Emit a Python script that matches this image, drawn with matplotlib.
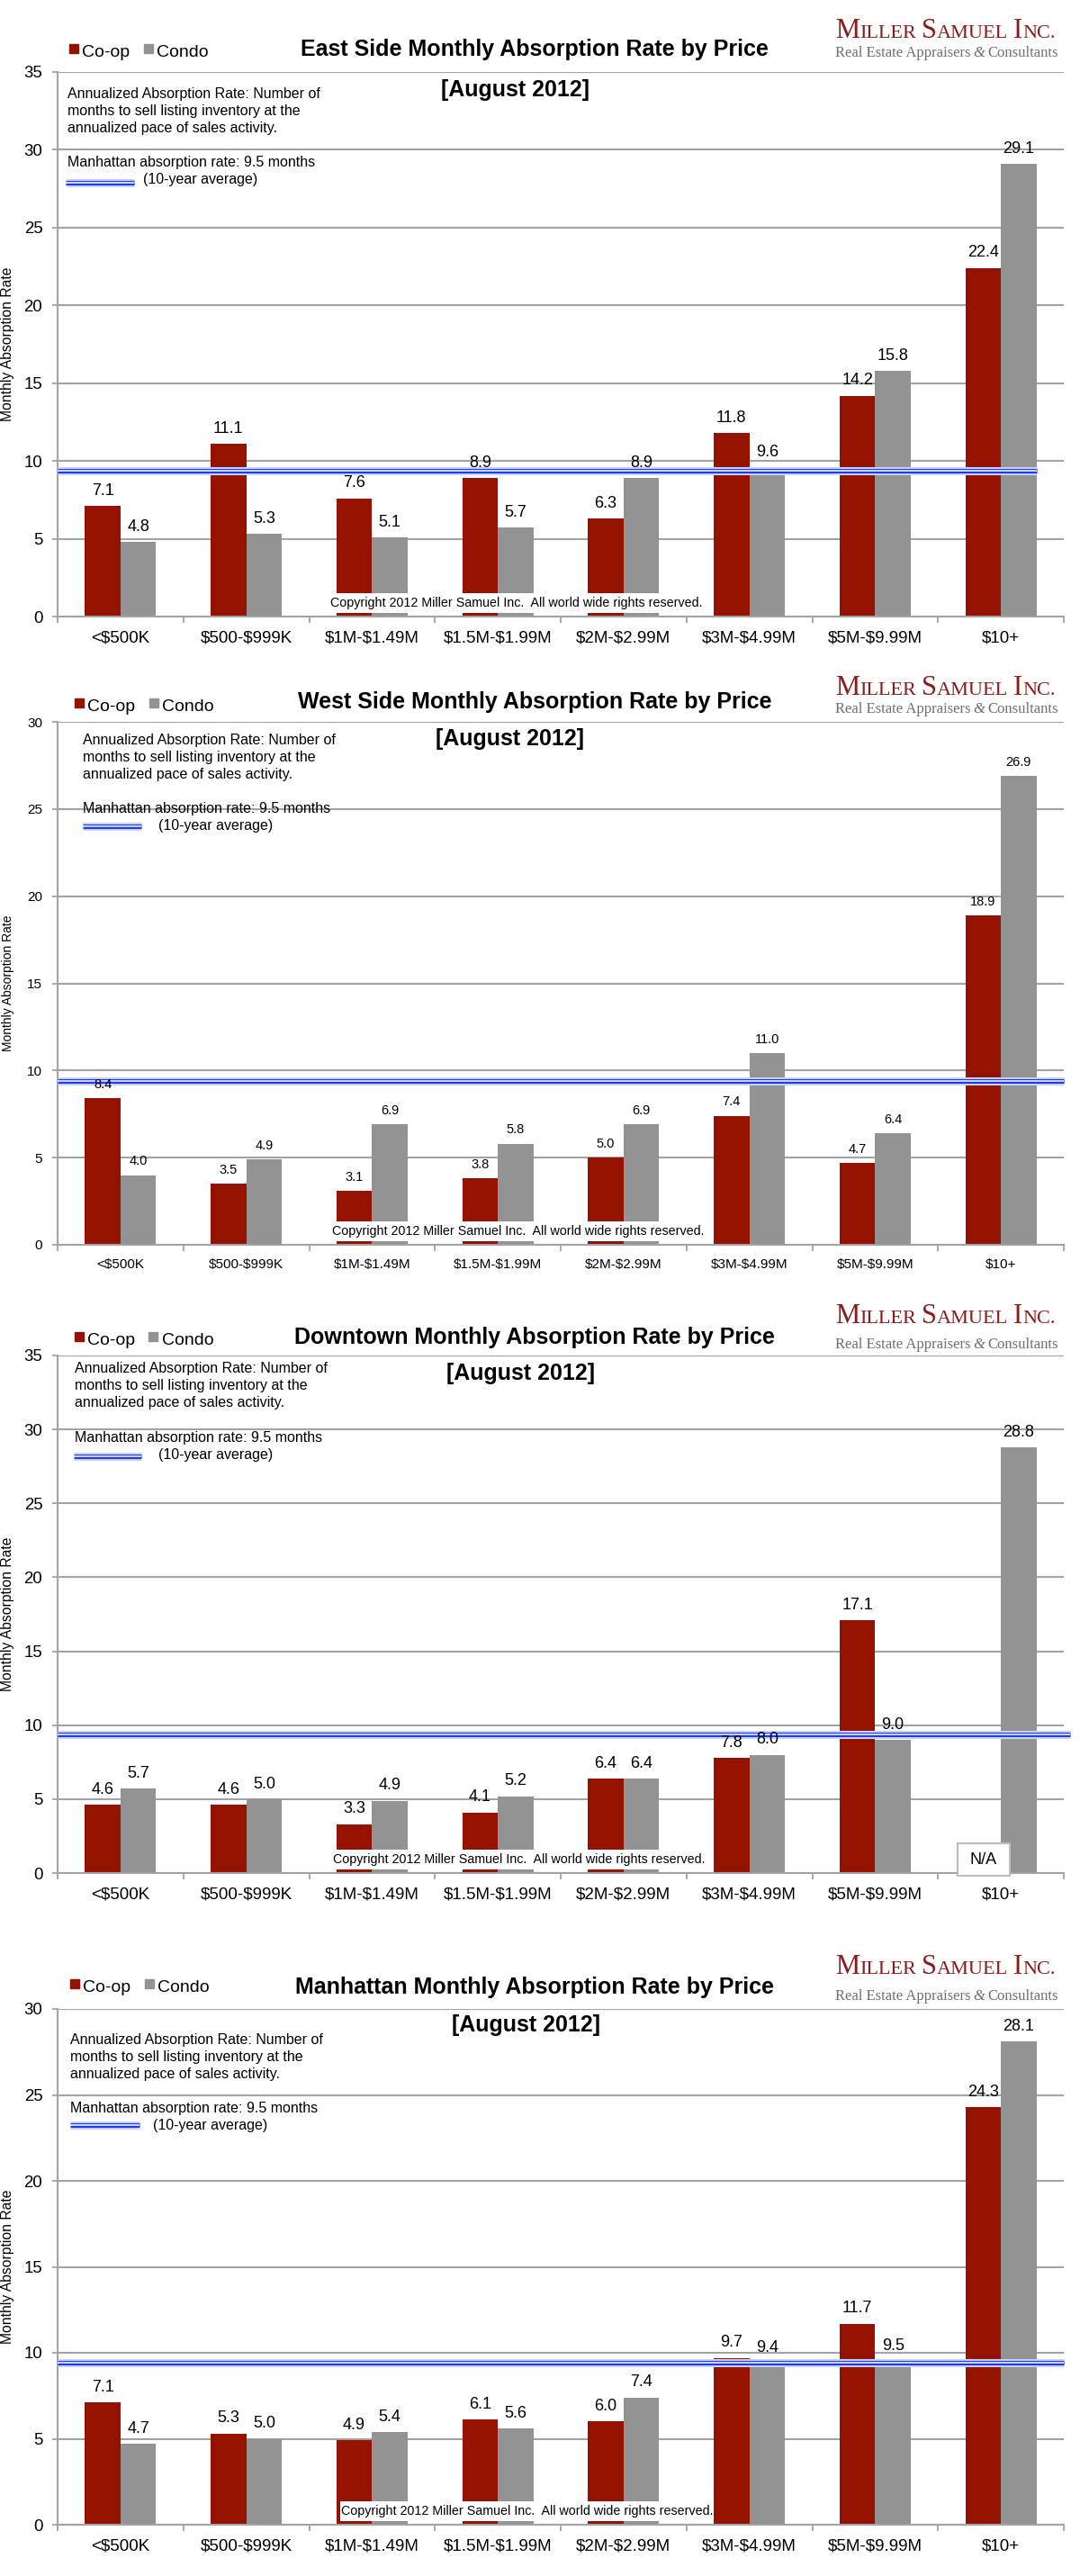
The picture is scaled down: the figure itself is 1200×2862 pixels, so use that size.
import matplotlib
matplotlib.use('Agg')
import matplotlib.pyplot as plt
from matplotlib.patches import Rectangle
from matplotlib.lines import Line2D
import numpy as np

plt.rcParams['font.family'] = ['Liberation Sans', 'DejaVu Sans']

# data (August 2012)
price_bands = ['<$500K', '$500-$999K', '$1M-$1.49M', '$1.5M-$1.99M',
               '$2M-$2.99M', '$3M-$4.99M', '$5M-$9.99M', '$10+']

east_coop = [7.1, 11.1, 7.6, 8.9, 6.3, 11.8, 14.2, 22.4]
east_condo = [4.8, 5.3, 5.1, 5.7, 8.9, 9.6, 15.8, 29.1]
west_coop = [8.4, 3.5, 3.1, 3.8, 5.0, 7.4, 4.7, 18.9]
west_condo = [4.0, 4.9, 6.9, 5.8, 6.9, 11.0, 6.4, 26.9]
downtown_coop = [4.6, 4.6, 3.3, 4.1, 6.4, 7.8, 17.1, None]
downtown_condo = [5.7, 5.0, 4.9, 5.2, 6.4, 8.0, 9.0, 28.8]
manhattan_coop = [7.1, 5.3, 4.9, 6.1, 6.0, 9.7, 11.7, 24.3]
manhattan_condo = [4.7, 5.0, 5.4, 5.6, 7.4, 9.4, 9.5, 28.1]

manhattan_avg = 9.4

COOP = '#951100'
CONDO = '#939393'
GRID = '#a3a3a3'
LOGO = '#8c1b1b'
BLUE = '#1c3cf2'

W, H = 1200, 2862
L, R = 64, 1182

fig = plt.figure(figsize=(W / 100, H / 100), dpi=100)
renderer = fig.canvas.get_renderer()


def fx(px):
    return px / W


def fy(px):
    return 1 - px / H


def avg_line(ax, xs, ys, transform):
    kw = dict(transform=transform, solid_capstyle='butt', clip_on=False)
    ax.plot(xs, ys, color='#c9d1f2', lw=6.5, zorder=3, **kw)
    ax.plot(xs, ys, color=BLUE, lw=3.6, zorder=3, **kw)
    ax.plot(xs, ys, color='white', lw=1.1, zorder=3, **kw)


def chain_text(x0, y, pieces, **kw):
    # draw text pieces one after another on the same baseline (small caps logo)
    x = x0
    for txt, size, extra in pieces:
        if txt == ' ':
            x += size
            continue
        t = fig.text(fx(x), y, txt, fontsize=size, va='baseline', ha='left', **kw, **extra)
        x += t.get_window_extent(renderer).width


def draw_panel(title, coop, condo, ymax, lay):
    top, bot = lay['top'], lay['bot']
    h = bot - top
    fs = lay['fs']
    ax = fig.add_axes([fx(L), fy(bot), (R - L) / W, h / H])
    x = np.arange(len(price_bands))
    bw = 0.283
    coop_vals = np.array([np.nan if v is None else v for v in coop])
    ax.bar(x - bw / 2, coop_vals, bw, color=COOP, zorder=2)
    ax.bar(x + bw / 2, condo, bw, color=CONDO, zorder=2)

    for xi, v in zip(x - bw / 2, coop):
        if v is None:
            ax.add_patch(Rectangle((xi - 0.2, -0.18), 0.41, 2.18, facecolor='white',
                                   edgecolor='#bdbdbd', lw=1.5, zorder=4, clip_on=False))
            ax.text(xi + 0.005, 0.9, 'N/A', ha='center', va='center', fontsize=13, zorder=5)
            continue
        ax.annotate(f'{v:.1f}', (xi, v), xytext=(0, 6), textcoords='offset points',
                    ha='center', va='bottom', fontsize=fs['val'], zorder=5)
    for xi, v in zip(x + bw / 2, condo):
        ax.annotate(f'{v:.1f}', (xi, v), xytext=(0, 6), textcoords='offset points',
                    ha='center', va='bottom', fontsize=fs['val'], zorder=5)

    ax.set_xlim(-0.5, len(price_bands) - 0.5)
    ax.set_ylim(0, ymax)
    ax.set_yticks(np.arange(0, ymax + 1, 5))
    ax.set_xticks(x)
    ax.set_xticklabels([b.replace('$', r'\$') for b in price_bands], fontsize=fs['tick'])
    ax.set_xticks(np.arange(-0.5, len(price_bands)), minor=True)
    ax.tick_params(axis='x', which='major', length=0, pad=11)
    ax.tick_params(axis='x', which='minor', length=5, width=1.3, color=GRID, direction='out')
    ax.tick_params(axis='y', length=4, width=1.3, color=GRID, pad=8, labelsize=fs['ytick'])
    ax.grid(axis='y', color=GRID, lw=1.5, zorder=1)
    ax.set_axisbelow(True)
    for s in ['top', 'right']:
        ax.spines[s].set_visible(False)
    for s in ['left', 'bottom']:
        ax.spines[s].set_color(GRID)
        ax.spines[s].set_linewidth(1.5)
    ax.set_ylabel('Monthly Absorption Rate', fontsize=fs['ylab'])
    ax.yaxis.set_label_coords((16 - L) / (R - L), 0.5)

    # 10-year Manhattan average
    avg_line(ax, [-0.5, lay['line_end']], [manhattan_avg, manhattan_avg], ax.transData)

    # notes inside the plot
    def ax_pt(px_x, px_below):
        return (px_x - L) / (R - L), 1 - px_below / h

    notes = ['Annualized Absorption Rate: Number of',
             'months to sell listing inventory at the',
             'annualized pace of sales activity.']
    for k, line in enumerate(notes):
        ax.text(*ax_pt(lay['note_x'], lay['note'] + 19 * k), line, transform=ax.transAxes,
                ha='left', va='baseline', fontsize=11.5)
    ax.text(*ax_pt(lay['note_x'], lay['manh']), 'Manhattan absorption rate: 9.5 months',
            transform=ax.transAxes, ha='left', va='baseline', fontsize=11.5)
    ax.text(*ax_pt(lay['avg_x'], lay['manh'] + 19), '(10-year average)',
            transform=ax.transAxes, ha='left', va='baseline', fontsize=11.5)
    sx0, sy = ax_pt(lay['sample'][0], lay['sample'][2])
    sx1, _ = ax_pt(lay['sample'][1], lay['sample'][2])
    avg_line(ax, [sx0, sx1], [sy, sy], ax.transAxes)

    ax.text(*ax_pt(lay['aug_x'], lay['aug']), '[August 2012]', transform=ax.transAxes,
            ha='center', va='center', fontsize=18, fontweight='bold')

    # copyright box
    x0, x1 = lay['copy']
    tr = ax.get_xaxis_transform()
    ax.add_patch(Rectangle((x0, 4 / h), x1 - x0, 22 / h, transform=tr,
                           facecolor='white', edgecolor='none', zorder=4))
    ax.text((x0 + x1) / 2, 15 / h, 'Copyright 2012 Miller Samuel Inc.  All world wide rights reserved.',
            transform=tr, ha='center', va='center', fontsize=10.3, zorder=5)

    # title, legend, logo above the axes
    fig.text(fx(594), fy(top - lay['title']), title, ha='center', va='baseline',
             fontsize=18, fontweight='bold')
    lx = lay['leg_x']
    for mx, tx, col, lab in [(lx, lx + 9, COOP, 'Co-op'), (lx + 82.5, lx + 92, CONDO, 'Condo')]:
        fig.add_artist(Line2D([fx(mx)], [fy(top - lay['leg'] - 9.5)], marker='s', ms=7.2,
                              color=col, transform=fig.transFigure))
        fig.text(fx(tx), fy(top - lay['leg']), lab, ha='left', va='baseline', fontsize=14)

    chain_text(928, fy(top - lay['logo'][0]),
               [('M', 22, {}), ('ILLER', 16, {}), (' ', 6, {}), ('S', 22, {}), ('AMUEL', 16, {}),
                (' ', 6, {}), ('I', 22, {}), ('NC.', 16, {})],
               family='Liberation Serif', color=LOGO)
    chain_text(928, fy(top - lay['logo'][1]),
               [('Real Estate Appraisers', 12, {}), (' ', 3, {}), ('&', 12, {'style': 'italic'}),
                (' ', 3, {}), ('Consultants', 12, {})],
               family='Liberation Serif', color='#707070')
    return ax


big = {'val': 13, 'tick': 13.5, 'ytick': 13.4, 'ylab': 11.3}
small = {'val': 10.5, 'tick': 11, 'ytick': 11, 'ylab': 10}

panels = [
    ('East Side Monthly Absorption Rate by Price', east_coop, east_condo, 35,
     dict(top=80, bot=685, fs=big, title=18, leg=17, leg_x=82, logo=(38, 17),
          note_x=75, note=29, manh=105, avg_x=159, sample=(73, 149, 123), aug_x=573, aug=20,
          line_end=7.283, copy=(1.67, 4.62))),
    ('West Side Monthly Absorption Rate by Price', west_coop, west_condo, 30,
     dict(top=802, bot=1383, fs=small, title=15, leg=12, leg_x=88, logo=(30, 10),
          note_x=92, note=25, manh=101, avg_x=176, sample=(92, 157, 116), aug_x=566, aug=19,
          line_end=7.5, copy=(1.68, 4.64))),
    ('Downtown Monthly Absorption Rate by Price', downtown_coop, downtown_condo, 35,
     dict(top=1506, bot=2081, fs=big, title=13, leg=12, leg_x=87.5, logo=(36, 8),
          note_x=83, note=19, manh=96, avg_x=176, sample=(82, 157, 112), aug_x=578, aug=20,
          line_end=7.55, copy=(1.68, 4.66))),
    ('Manhattan Monthly Absorption Rate by Price', manhattan_coop, manhattan_condo, 30,
     dict(top=2232, bot=2805, fs=big, title=17, leg=19, leg_x=83, logo=(39, 10),
          note_x=78, note=39, manh=115, avg_x=170, sample=(78, 155, 129), aug_x=584, aug=18,
          line_end=7.5, copy=(1.75, 4.72))),
]

for title, coop, condo, ymax, lay in panels:
    draw_panel(title, coop, condo, ymax, lay)

fig.savefig('out.png', dpi=100)
